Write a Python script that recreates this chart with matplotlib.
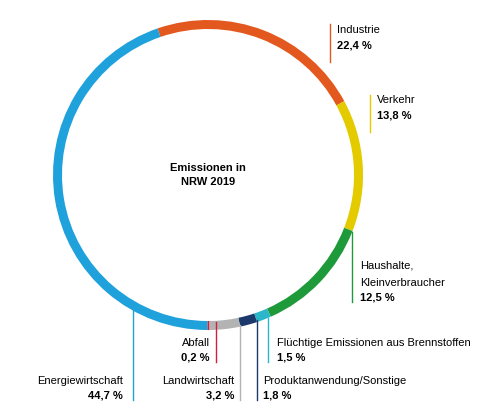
import matplotlib.pyplot as plt
from matplotlib.patches import Wedge

plt.rcParams['font.family'] = ['Liberation Sans', 'DejaVu Sans']

# Data (clockwise from top)
sectors = ["Industrie", "Verkehr", "Haushalte,\nKleinverbraucher",
           "Flüchtige Emissionen aus Brennstoffen", "Produktanwendung/Sonstige",
           "Landwirtschaft", "Abfall", "Energiewirtschaft"]
shares = [22.4, 13.8, 12.5, 1.5, 1.8, 3.2, 0.2, 44.7]
share_labels = ["22,4 %", "13,8 %", "12,5 %", "1,5 %", "1,8 %", "3,2 %", "0,2 %", "44,7 %"]
colors = ["#E2581E", "#E3CB00", "#1F9A3B", "#2CB6C9", "#1B3A6B",
          "#B3B3B3", "#D31F3C", "#1FA1DC"]

W, H = 485, 418
fig = plt.figure(figsize=(W / 100, H / 100), dpi=100)
ax = fig.add_axes([0, 0, 1, 1])
ax.set_xlim(0, W)
ax.set_ylim(H, 0)
ax.axis('off')

cx, cy, r, width = 208, 175, 155, 9
start = -109  # degrees in inverted y frame (top-left of vertical)
total = sum(shares)
ang = start
for s, c in zip(shares, colors):
    span = s / total * 360
    ax.add_patch(Wedge((cx, cy), r, ang, ang + span, width=width, color=c, lw=0))
    ang += span

ax.text(cx, cy, "Emissionen in\nNRW 2019", ha='center', va='center',
        fontsize=8, fontweight='bold', linespacing=1.6)

# label layout: (line x, line y0, line y1, text x, text y, align)
layout = [
    (330, 24, 62, 337, 30, 'left'),
    (370, 95, 132, 377, 100, 'left'),
    (352, 232, 302, 360, 266, 'left'),
    (268, 318, 362, 277, 343, 'left'),
    (257, 320, 400, 263, 381, 'left'),
    (240, 325, 400, 234, 381, 'right'),
    (216, 322, 362, 210, 343, 'right'),
    (133, 308, 400, 123, 381, 'right'),
]
for name, lab, c, (lx, y0, y1, tx, ty, ha) in zip(sectors, share_labels, colors, layout):
    ax.plot([lx, lx], [y0, y1], color=c, lw=1)
    lines = name.split("\n")
    for i, ln in enumerate(lines):
        ax.text(tx, ty + i * 17, ln, ha=ha, va='center', fontsize=8)
    ax.text(tx, ty + 15 + (len(lines) - 1) * 17, lab, ha=ha, va='center',
            fontsize=8, fontweight='bold')

fig.savefig("out.png", dpi=100)
